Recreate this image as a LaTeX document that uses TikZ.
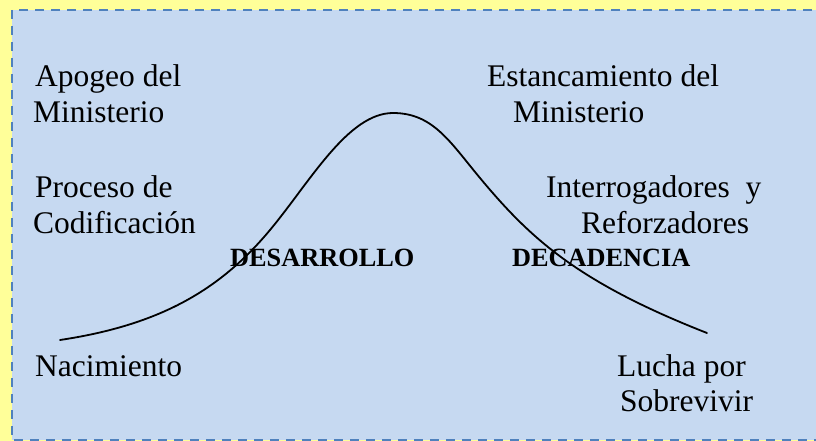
\documentclass[tikz,border=0pt]{standalone}
\usepackage{fontspec}
\setmainfont{Liberation Serif}
\definecolor{bgyellow}{HTML}{FFFF99}
\definecolor{panelblue}{HTML}{C6D9F1}
\definecolor{borderblue}{HTML}{4F81BD}
\begin{document}
\begin{tikzpicture}[x=1pt,y=-1pt,
  lbl/.style={anchor=base west,inner sep=0pt,font=\rmfamily\fontsize{31.5}{35}\selectfont},
  phase/.style={anchor=base west,inner sep=0pt,font=\rmfamily\fontsize{26.3}{30}\selectfont\bfseries}]
\useasboundingbox (0,0) rectangle (816,441);
\fill[bgyellow] (0,0) rectangle (816,441);
\draw[fill=panelblue,draw=borderblue,line width=2.5pt,dash pattern=on 9pt off 7pt] (12,10) rectangle (830,440);
% bell curve
\coordinate (cstart) at (60,340);
\coordinate (cinfl1) at (270,230);
\coordinate (cpeak) at (393,113);
\coordinate (cinfl2) at (480,178);
\coordinate (cend) at (707,333);
\draw[line width=1.8pt,line cap=round]
  (cstart) .. controls (160,325) and (220,290) .. (cinfl1)
  .. controls (310,182) and (348,113) .. (cpeak)
  .. controls (433,113) and (450,142) .. (cinfl2)
  .. controls (530,238) and (577,282) .. (cend);
% labels
\node[lbl] (apogeo1) at (35,87) {Apogeo del};
\node[lbl] (apogeo2) at (33,122) {Ministerio};
\node[lbl] (estanc1) at (487,87) {Estancamiento del};
\node[lbl] (estanc2) at (513,122) {Ministerio};
\node[lbl] (proceso1) at (35,197) {Proceso de};
\node[lbl] (proceso2) at (33,233) {Codificación};
\node[lbl] (interr1) at (546,197) {Interrogadores\ \ y};
\node[lbl] (interr2) at (581,233) {Reforzadores};
\node[phase] (desarrollo) at (230,266) {DESARROLLO};
\node[phase] (decadencia) at (512,266) {DECADENCIA};
\node[lbl] (nacimiento) at (35,376) {Nacimiento};
\node[lbl] (lucha1) at (617,376) {Lucha por};
\node[lbl] (lucha2) at (620,411) {Sobrevivir};
\end{tikzpicture}
\end{document}
